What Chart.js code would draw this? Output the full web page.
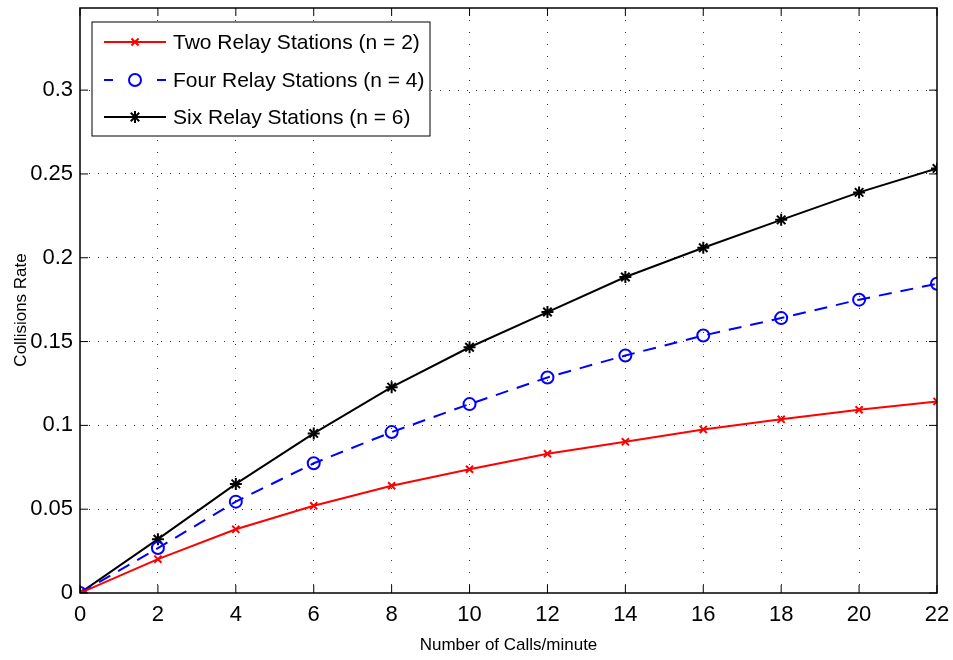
<!DOCTYPE html>
<html lang="en">
<head>
<meta charset="UTF-8">
<title>Collisions Rate vs Number of Calls</title>
<script src="https://cdn.jsdelivr.net/npm/chart.js"></script>
<style>
    html, body {
        margin: 0;
        padding: 0;
        background: #fff;
    }
    .wrap {
        width: 953px;
        height: 660px;
    }
</style>
</head>
<body>
<div class="wrap"><canvas id="chart" width="953" height="660"></canvas></div>
<script>
    const FONT = '"Liberation Sans", Arial, Helvetica, sans-serif';

    // data
    const callsPerMinute = [0, 2, 4, 6, 8, 10, 12, 14, 16, 18, 20, 22];
    const twoRelays  = [0, 0.0202, 0.0380, 0.0520, 0.0640, 0.0738, 0.0831, 0.0902, 0.0976, 0.1036, 0.1093, 0.1143];
    const fourRelays = [0, 0.0268, 0.0545, 0.0774, 0.0960, 0.1127, 0.1286, 0.1417, 0.1536, 0.1640, 0.1750, 0.1845];
    const sixRelays  = [0, 0.0321, 0.0651, 0.0952, 0.1228, 0.1466, 0.1676, 0.1885, 0.2060, 0.2226, 0.2390, 0.2533];
    const seriesLabels = ['Two Relay Stations (n = 2)', 'Four Relay Stations (n = 4)', 'Six Relay Stations (n = 6)'];

    const toPoints = ys => callsPerMinute.map((x, i) => ({x: x, y: ys[i]}));

    // box around the plot + inward tick marks (MATLAB style)
    const boxPlugin = {
        id: 'box',
        afterDraw(chart) {
            const {ctx, chartArea: a, scales} = chart;
            ctx.save();
            ctx.strokeStyle = '#000';
            ctx.lineWidth = 1;
            const len = 8;
            scales.x.ticks.forEach(t => {
                const px = scales.x.getPixelForValue(t.value);
                ctx.beginPath();
                ctx.moveTo(px, a.bottom); ctx.lineTo(px, a.bottom - len);
                ctx.moveTo(px, a.top); ctx.lineTo(px, a.top + len);
                ctx.stroke();
            });
            scales.y.ticks.forEach(t => {
                const py = scales.y.getPixelForValue(t.value);
                ctx.beginPath();
                ctx.moveTo(a.left, py); ctx.lineTo(a.left + len, py);
                ctx.moveTo(a.right, py); ctx.lineTo(a.right - len, py);
                ctx.stroke();
            });
            ctx.lineWidth = 1.5;
            ctx.strokeRect(a.left, a.top, a.right - a.left, a.bottom - a.top);
            ctx.restore();
        }
    };

    // legend in the upper left corner, sample line with marker on it
    const legendPlugin = {
        id: 'boxLegend',
        afterDraw(chart) {
            const ctx = chart.ctx;
            const bx = 92, by = 22, bw = 338, bh = 114;
            const rows = [42, 80, 117];
            ctx.save();
            ctx.fillStyle = '#fff';
            ctx.fillRect(bx, by, bw, bh);
            ctx.strokeStyle = '#000';
            ctx.lineWidth = 1;
            ctx.strokeRect(bx, by, bw, bh);
            chart.data.datasets.forEach((ds, i) => {
                const y = rows[i];
                ctx.save();
                ctx.strokeStyle = ds.borderColor;
                ctx.lineWidth = ds.borderWidth;
                ctx.setLineDash(ds.borderDash && ds.borderDash.length ? [9, 44] : []);
                ctx.beginPath();
                ctx.moveTo(104, y);
                ctx.lineTo(166, y);
                ctx.stroke();
                ctx.setLineDash([]);
                ctx.fillStyle = ds.pointBackgroundColor;
                ctx.strokeStyle = ds.pointBorderColor;
                ctx.lineWidth = ds.pointBorderWidth;
                Chart.helpers.drawPoint(ctx, {
                    pointStyle: ds.pointStyle,
                    radius: ds.pointRadius,
                    borderWidth: ds.pointBorderWidth,
                    rotation: 0
                }, 135, y);
                ctx.restore();
                ctx.fillStyle = '#000';
                ctx.font = '21px ' + FONT;
                ctx.textBaseline = 'middle';
                ctx.textAlign = 'left';
                ctx.fillText(ds.label, 173, y + 1);
            });
            ctx.restore();
        }
    };

    const hideEdge = (edges) => (c) => (edges.includes(c.tick && c.tick.value) ? 'rgba(0,0,0,0)' : '#333');

    new Chart(document.getElementById('chart'), {
        type: 'line',
        data: {
            datasets: [{
                label: seriesLabels[0],
                data: toPoints(twoRelays),
                borderColor: '#ff0000',
                borderWidth: 2,
                pointStyle: 'crossRot',
                pointRadius: 5,
                pointBorderWidth: 2,
                pointBorderColor: '#ff0000',
                pointBackgroundColor: '#ff0000',
                tension: 0
            }, {
                label: seriesLabels[1],
                data: toPoints(fourRelays),
                borderColor: '#0000ff',
                borderWidth: 2,
                borderDash: [13, 9],
                pointStyle: 'circle',
                pointRadius: 6,
                pointBorderWidth: 2,
                pointBorderColor: '#0000ff',
                pointBackgroundColor: 'rgba(0,0,0,0)',
                tension: 0
            }, {
                label: seriesLabels[2],
                data: toPoints(sixRelays),
                borderColor: '#000000',
                borderWidth: 2,
                pointStyle: 'star',
                pointRadius: 6,
                pointBorderWidth: 2,
                pointBorderColor: '#000000',
                pointBackgroundColor: '#000000',
                tension: 0
            }]
        },
        options: {
            responsive: false,
            animation: false,
            layout: {padding: {left: 0, right: 16, top: 6, bottom: 0}},
            plugins: {
                legend: {display: false},
                tooltip: {enabled: false}
            },
            scales: {
                x: {
                    type: 'linear',
                    min: 0,
                    max: 22,
                    ticks: {
                        stepSize: 2,
                        color: '#000',
                        padding: 9,
                        font: {family: FONT, size: 22}
                    },
                    grid: {
                        color: hideEdge([0, 22]),
                        lineWidth: 1,
                        drawTicks: false
                    },
                    border: {display: false, dash: [1, 11]},
                    title: {
                        display: true,
                        text: 'Number of Calls/minute',
                        color: '#000',
                        font: {family: FONT, size: 17},
                        padding: {top: 0, bottom: 4}
                    },
                    afterFit(scale) {
                        scale.height = 67;
                        scale.paddingLeft = 0;
                        scale.paddingRight = 0;
                    }
                },
                y: {
                    min: 0,
                    max: 0.349,
                    ticks: {
                        stepSize: 0.05,
                        includeBounds: false,
                        color: '#000',
                        padding: 7,
                        font: {family: FONT, size: 22},
                        callback: v => String(Number(v.toFixed(2)))
                    },
                    grid: {
                        color: hideEdge([0]),
                        lineWidth: 1,
                        drawTicks: false
                    },
                    border: {display: false, dash: [1, 8]},
                    title: {
                        display: true,
                        // trailing spaces push the rotated label a little lower, as in the figure
                        text: 'Collisions Rate\u00a0\u00a0\u00a0\u00a0',
                        color: '#000',
                        font: {family: FONT, size: 17},
                        padding: {top: 11, bottom: 0}
                    },
                    afterFit(scale) {
                        scale.width = 80;
                        scale.paddingTop = 0;
                        scale.paddingBottom = 0;
                    }
                }
            }
        },
        plugins: [boxPlugin, legendPlugin]
    });
</script>
</body>
</html>
